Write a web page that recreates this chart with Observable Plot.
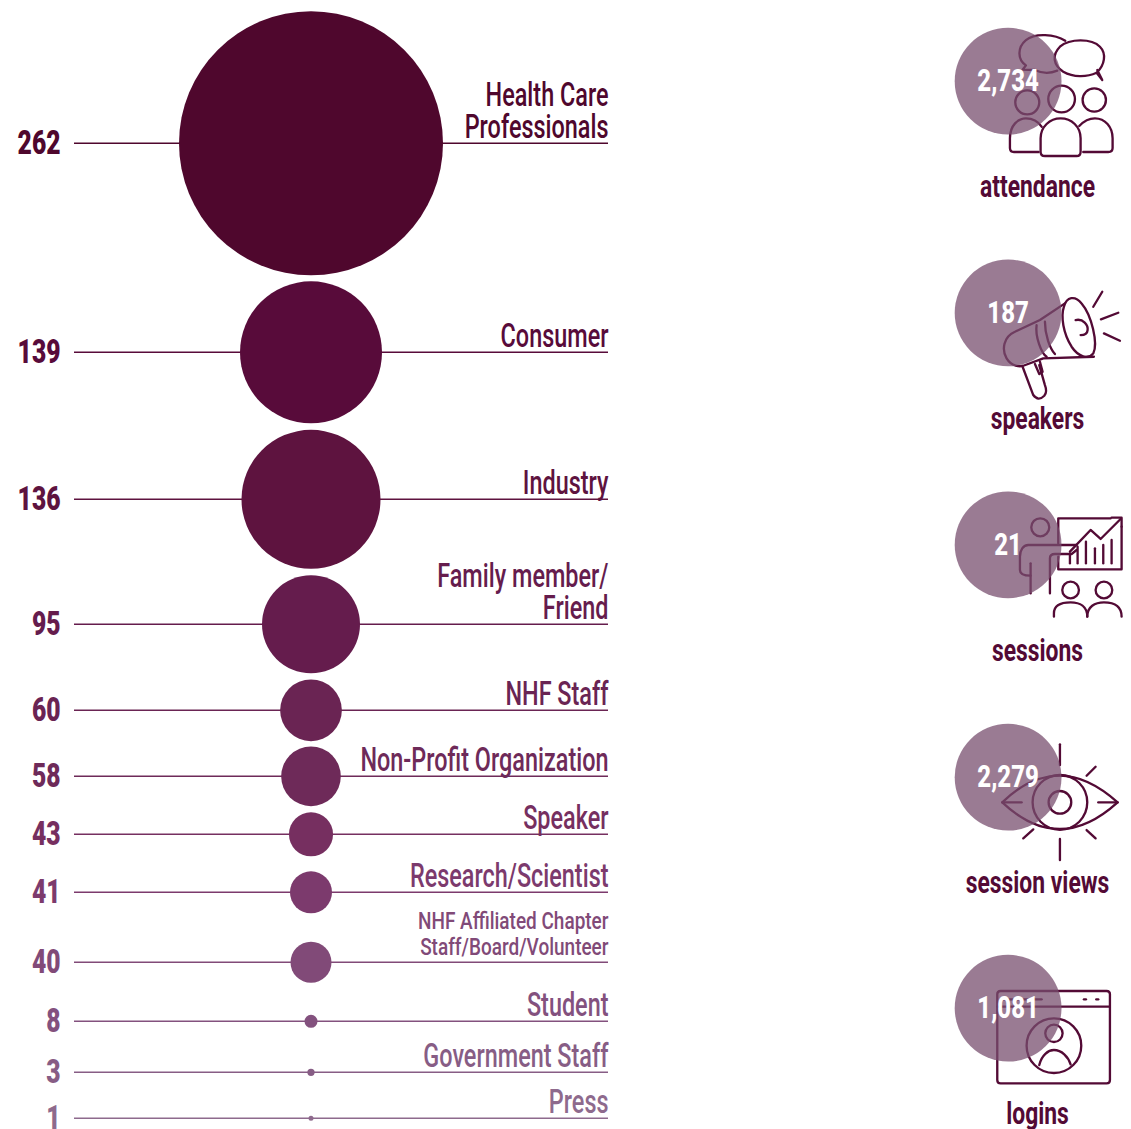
<!DOCTYPE html>
<html>
<head>
<meta charset="utf-8">
<style>
  html, body { margin: 0; background: #fff; overflow: hidden; }
  svg { display: block; }
</style>
<script src="https://cdn.jsdelivr.net/npm/d3@7"></script>
<script src="https://cdn.jsdelivr.net/npm/@observablehq/plot@0.6"></script>
</head>
<body>
<div id="chart"></div>
<script>
// Attendee types and how many registered in each
const categories = [
  "Health Care\nProfessionals", "Consumer", "Industry", "Family member/\nFriend",
  "NHF Staff", "Non-Profit Organization", "Speaker", "Research/Scientist",
  "NHF Affiliated Chapter\nStaff/Board/Volunteer", "Student", "Government Staff", "Press"
];
const counts = [262, 139, 136, 95, 60, 58, 43, 41, 40, 8, 3, 1];

// Headline event figures
const metrics = ["attendance", "speakers", "sessions", "session views", "logins"];
const metricValues = ["2,734", "187", "21", "2,279", "1,081"];

const rows = categories.map((label, i) => ({label, count: counts[i]}));
const kpis = metrics.map((name, i) => ({name, value: metricValues[i]}));

const INK = "#530a35";
const FACE = "Roboto, 'Liberation Sans', sans-serif";

// Line icons, authored on a 3x grid centred on each figure's disc
const icons = {
  attendance: {origin: [203, 182], paths: [
    "M376 62C345 42 285 38 258 60C232 82 232 118 258 136L248 149L284 150C306 160 332 160 352 152",
    "M470 158C495 135 500 100 480 80C455 55 390 55 360 80C335 105 340 135 370 155C400 172 440 172 470 158L487 180L472 150",
    "M298 247a36 36 0 1 1-72 0a36 36 0 1 1 72 0",
    "M405 237a40 40 0 1 1-80 0a40 40 0 1 1 80 0",
    "M498 240a35 35 0 1 1-70 0a35 35 0 1 1 70 0",
    "M296 396L222 396Q210 396 210 384L210 355C210 315 235 295 258 295C280 295 295 305 305 320",
    "M302 395L302 355C302 320 330 295 362 295C395 295 422 320 422 355L422 395Q422 408 410 408L315 408Q302 408 302 395Z",
    "M430 396L505 396Q518 396 518 384L518 355C518 320 495 295 465 295C445 295 430 305 418 318"
  ]},
  speakers: {origin: [203, 187], paths: [
    "M372 170C380 140 405 135 425 160C455 195 475 280 460 310C445 330 415 320 395 290C370 250 362 200 372 170",
    "M375 160L300 210L225 245C190 260 185 300 200 325C215 350 240 350 250 347L310 325L462 320",
    "M290 225C285 260 305 310 320 320",
    "M315 215C315 255 330 295 345 312",
    "M248 350L280 435Q295 455 313 437Q323 425 315 405L298 345",
    "M285 342L298 372L308 365L300 335",
    "M407 210C430 205 445 225 443 240C442 252 432 255 422 255",
    "M460 170L487 125", "M483 208L535 188", "M492 250L540 272"
  ]},
  sessions: {origin: [203, 178], paths: [
    "M328 127a27 27 0 1 1-54 0a27 27 0 1 1 54 0",
    "M355 175L355 100L512 100", "M545 125L545 253L355 253L355 215",
    "M390 200L452 135L482 162L542 102", "M515 98L545 98L545 125",
    "M410 180L265 180C250 180 240 195 240 215L240 255C240 268 255 272 272 272",
    "M272 325L272 235", "M330 325L330 220C330 210 335 207 345 207L395 207L410 195",
    "M390 205L390 235", "M413 185L413 235", "M438 170L438 235", "M465 190L465 235", "M490 180L490 235", "M515 165L515 235",
    "M417 315a25 25 0 1 1-50 0a25 25 0 1 1 50 0",
    "M517 315a25 25 0 1 1-50 0a25 25 0 1 1 50 0",
    "M342 395L342 385C342 360 365 352 392 352C420 352 442 365 442 395",
    "M442 395C442 365 465 352 492 352C520 352 545 360 545 395"
  ]},
  "session views": {origin: [203, 185], paths: [
    "M187 262C240 210 300 182 360 182C420 182 480 215 533 262C480 310 420 342 360 342C300 342 240 312 187 262Z",
    "M442 262a82 82 0 1 1-164 0a82 82 0 1 1 164 0",
    "M394 262a34 34 0 1 1-68 0a34 34 0 1 1 68 0",
    "M187 262L245 262", "M475 262L533 262", "M360 88L360 150", "M360 372L360 435",
    "M440 182L467 155", "M250 370L280 343", "M440 345L467 370"
  ]},
  logins: {origin: [203, 188], paths: [
    "M182 138L500 138Q510 138 510 148L510 405Q510 415 500 415L182 415Q172 415 172 405L172 148Q172 138 182 138Z",
    "M172 185L510 185", "M190 163L305 163", "M432 163L438 163", "M469 163L475 163",
    "M424 302a82 82 0 1 1-164 0a82 82 0 1 1 164 0",
    "M368 265a26 26 0 1 1-52 0a26 26 0 1 1 52 0",
    "M298 360C305 330 325 315 342 315C365 315 385 335 392 358"
  ]}
};

// Draws one line icon per headline figure, positioned through the y scale
function iconMark(index, {x, y}) {
  const g = d3.create("svg:g").attr("fill", "none").attr("stroke", INK)
    .attr("stroke-width", 7).attr("stroke-linecap", "round").attr("stroke-linejoin", "round");
  for (const name of metrics) {
    const {origin, paths} = icons[name];
    const item = g.append("g")
      .attr("transform", `translate(${x(1007.6)},${y(name)}) scale(${1 / 3}) translate(${-origin[0]},${-origin[1]})`);
    for (const d of paths) item.append("path").attr("d", d);
  }
  return g.node();
}

const plot = Plot.plot({
  width: 1131,
  height: 1129,
  margin: 0,
  style: {background: "transparent", fontFamily: FACE},
  x: {type: "linear", domain: [0, 1131], range: [0, 1131], axis: null},
  y: {
    type: "ordinal",
    axis: null,
    domain: [...categories, ...metrics],
    range: [142.8, 351.8, 498.8, 623.8, 709.8, 775.8, 833.8, 891.8, 961.8, 1020.8, 1071.8, 1117.8, 80.7, 312.4, 544.3, 776.7, 1007.7]
  },
  r: {type: "linear", domain: [1, 8, 40, 95, 139, 262], range: [2.5, 6.5, 20.5, 49, 71, 132]},
  color: {
    type: "ordinal",
    domain: categories,
    range: ["#4f072d", "#580b3a", "#5e133f", "#651c4d", "#6a2453", "#6e2a59", "#762f60", "#7c3a6d", "#814a78", "#83517e", "#875d85", "#8e6a8d"]
  },
  marks: [
    Plot.ruleY(rows, {y: "label", x1: 74, x2: 608, stroke: "label", strokeWidth: 1.4}),
    Plot.dot(rows, {x: 310.5, y: "label", r: "count", fill: "label", stroke: null}),
    Plot.text(rows, {
      x: 60, y: "label", text: d => String(d.count), fill: "label",
      textAnchor: "end", fontSize: 34, fontWeight: 900, className: "row-value"
    }),
    Plot.text(rows.filter(d => !d.label.startsWith("NHF Aff")), {
      x: 608, y: "label", text: "label", fill: "label", textAnchor: "end",
      lineAnchor: "bottom", lineHeight: 0.97, fontSize: 33, fontWeight: 500, dy: -5, className: "row-label"
    }),
    Plot.text(rows.filter(d => d.label.startsWith("NHF Aff")), {
      x: 608, y: "label", text: "label", fill: "label", textAnchor: "end",
      lineAnchor: "bottom", lineHeight: 1.06, fontSize: 24.5, fontWeight: 500, dy: -7, className: "row-label-small"
    }),
    iconMark,
    Plot.dot(kpis, {x: 1007.6, y: "name", r: 53.4, fill: "#784f6f", fillOpacity: 0.75, stroke: null}),
    Plot.text(kpis, {
      x: 1007.6, y: "name", text: "value", fill: "white", fontSize: 32, fontWeight: 800, className: "kpi-value"
    }),
    Plot.text(kpis, {
      x: 1037, y: "name", text: "name", fill: INK, fontSize: 32, fontWeight: 700, dy: 106, className: "kpi-label"
    })
  ]
});

// The labels are set tall and narrow: squeeze them horizontally around their anchor
const squeeze = {"row-label": 0.71, "row-label-small": 0.775, "row-value": 0.726, "kpi-value": 0.75, "kpi-label": 0.715};
for (const [cls, sx] of Object.entries(squeeze)) {
  plot.querySelectorAll(`g.${cls} text`).forEach(t => {
    t.setAttribute("transform", `${t.getAttribute("transform") || ""} scale(${sx},1)`);
  });
}

document.getElementById("chart").append(plot);
</script>
</body>
</html>
